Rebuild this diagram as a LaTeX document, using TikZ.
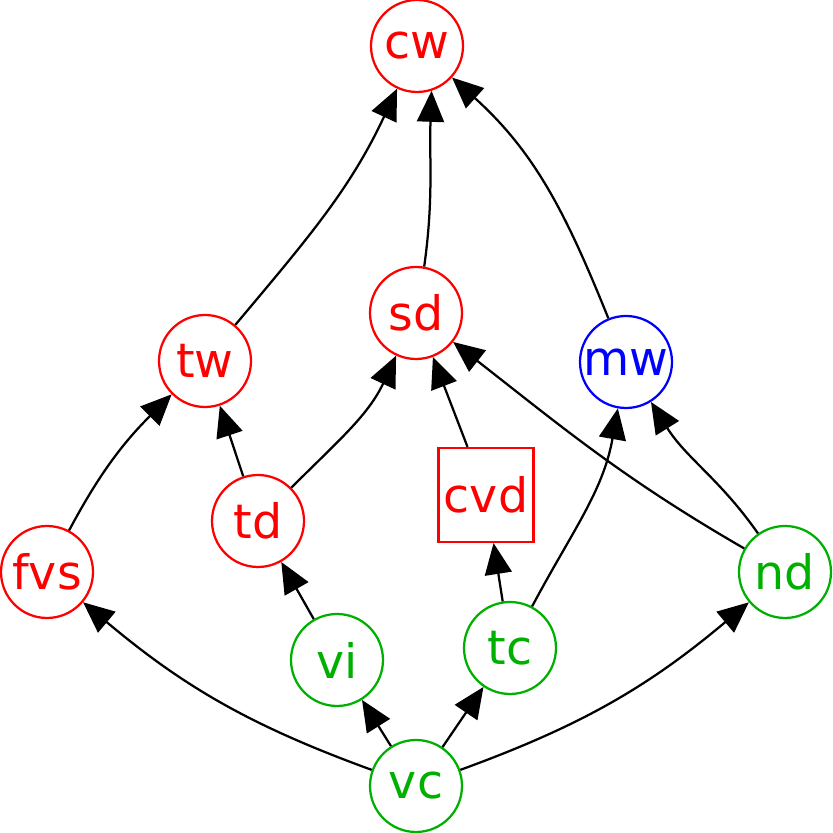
\documentclass[tikz,border=0pt]{standalone}
\usepackage{fontspec}
\setmainfont{DejaVu Sans}
\usetikzlibrary{arrows.meta}
\definecolor{dgreen}{RGB}{0,176,0}

\begin{document}
\begin{tikzpicture}[
    vnode/.style={draw, circle, line width=0.045cm, minimum size=1.84cm, inner sep=0pt, font=\fontsize{27}{30}\selectfont},
    sqnode/.style={draw, rectangle, line width=0.045cm, minimum width=1.9cm, minimum height=1.88cm, inner sep=0pt, font=\fontsize{27}{30}\selectfont},
    arr/.style={-{Triangle[length=0.62cm,width=0.54cm]}, line width=0.045cm}
]
\useasboundingbox (0,0) rectangle (16.66,16.66);
% top
\node[vnode, red] (cw) at (8.34,15.74) {cw};
% middle row
\node[vnode, red] (sd) at (8.32,10.40) {sd};
\node[vnode, red] (tw) at (4.10,9.44) {tw};
\node[vnode, blue] (mw) at (12.52,9.42) {mw};
\node[vnode, red] (td) at (5.16,6.24) {td};
\node[sqnode, red] (cvd) at (9.72,6.76) {cvd};
\node[vnode, red] (fvs) at (0.94,5.22) {fvs};
% bottom
\node[vnode, dgreen] (nd) at (15.70,5.22) {nd};
\node[vnode, dgreen] (vi) at (6.74,3.46) {vi};
\node[vnode, dgreen] (tc) at (10.20,3.70) {tc};
\node[vnode, dgreen] (vc) at (8.32,0.94) {vc};

\draw[arr] (tw) to[out=50, in=-115] (cw);
\draw[arr] (sd.80) to[out=82, in=-92] (cw.-72);
\draw[arr] (mw) to[out=112, in=-42] (cw);
\draw[arr] (fvs) to[out=62, in=-135] (tw);
\draw[arr] (td) -- (tw);
\draw[arr] (td) to[out=45, in=-115] (sd);
\draw[arr] (cvd) -- (sd);
\draw[arr] (nd) to[out=150, in=-38] (sd);
\draw[arr] (nd) to[out=125, in=-58] (mw);
\draw[arr] (tc) to[out=62, in=-100] (mw);
\draw[arr] (tc) -- (cvd);
\draw[arr] (vi) -- (td);
\draw[arr] (vc) to[out=160, in=-40] (fvs);
\draw[arr] (vc) -- (vi);
\draw[arr] (vc) -- (tc);
\draw[arr] (vc) to[out=20, in=-140] (nd);
\end{tikzpicture}
\end{document}
